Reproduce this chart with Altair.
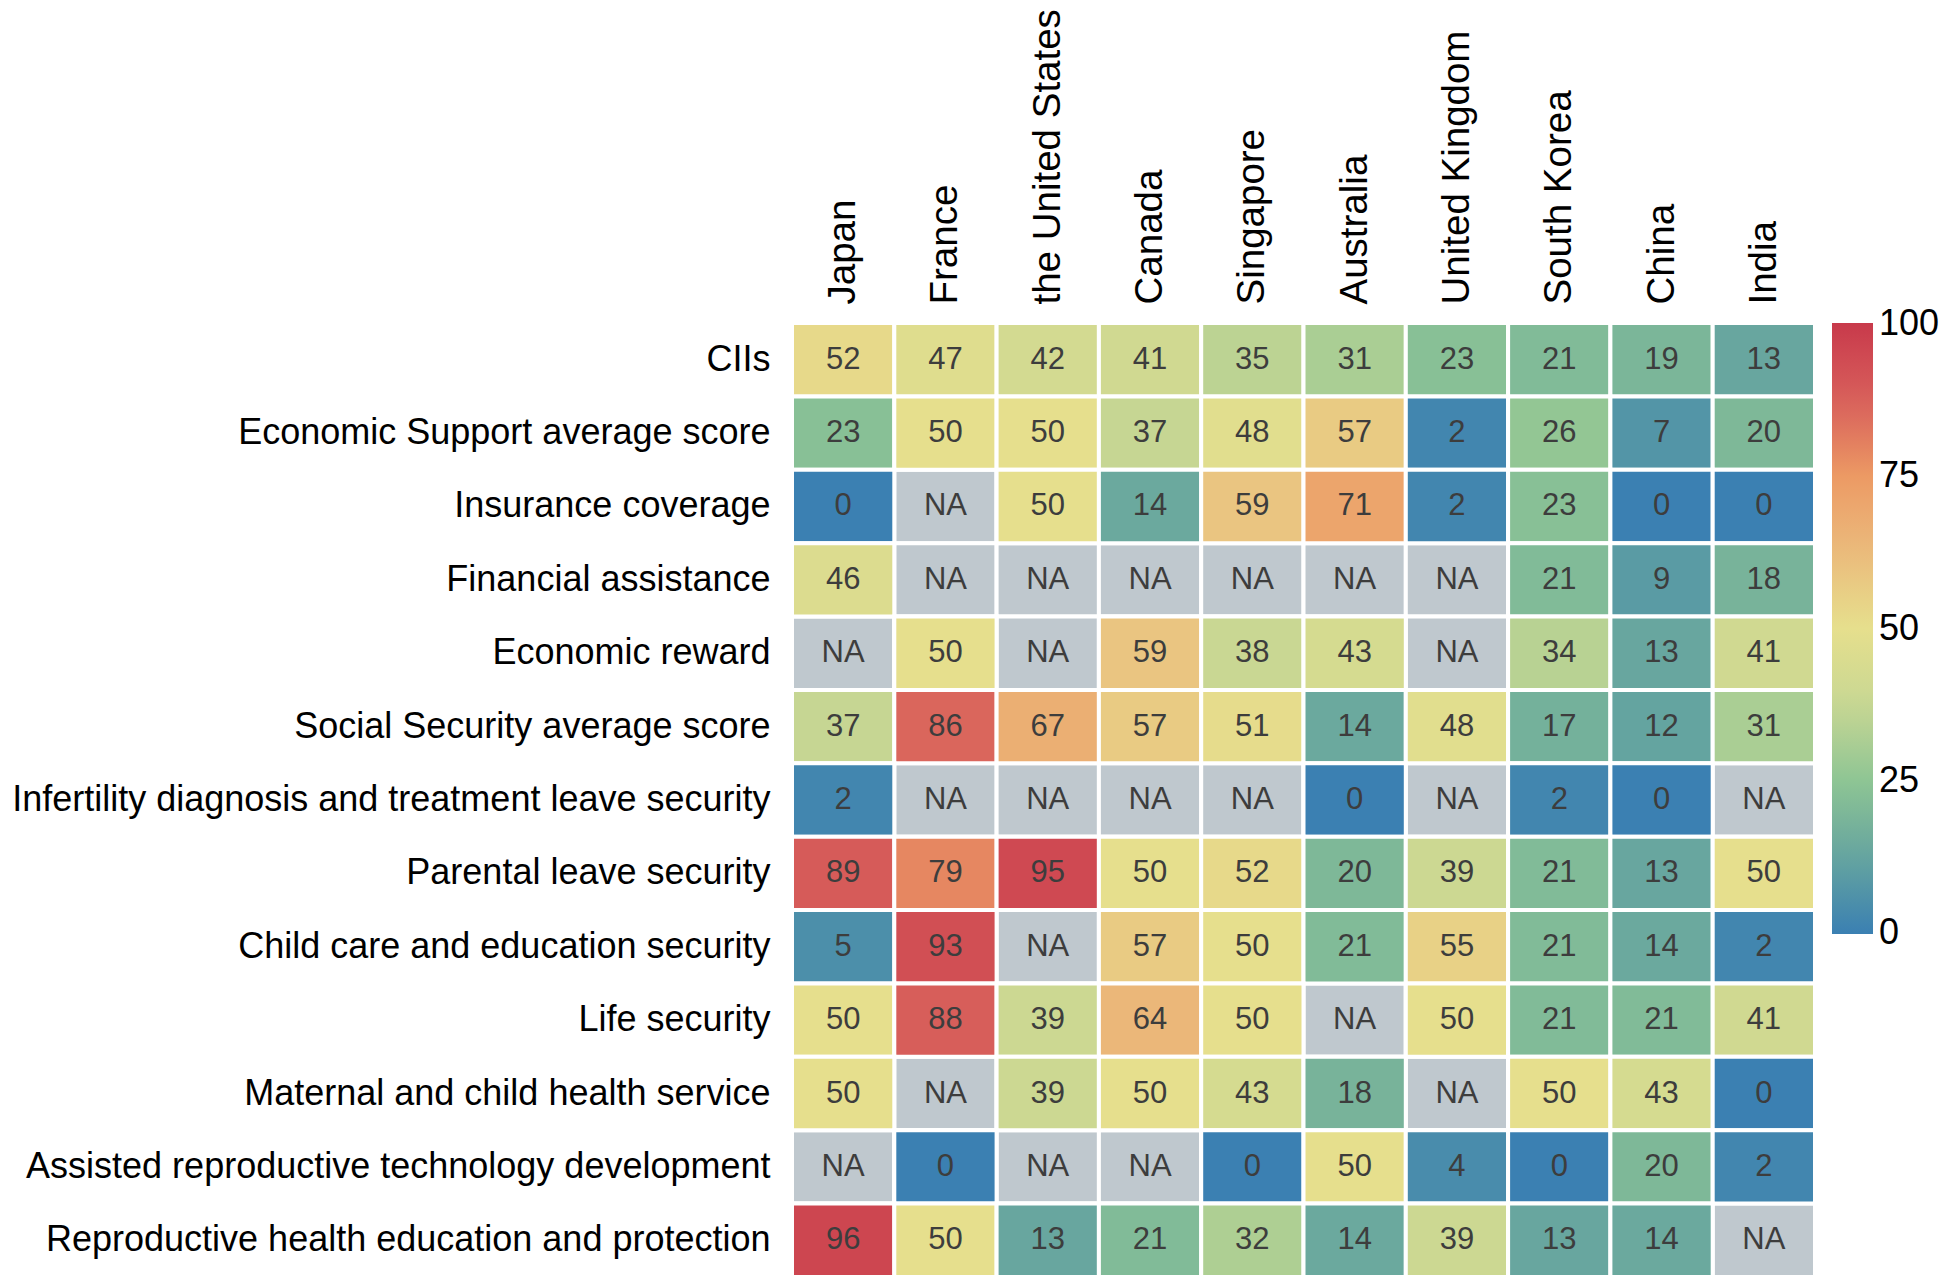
import altair as alt
import pandas as pd

rows = [
    "CIIs",
    "Economic Support average score",
    "Insurance coverage",
    "Financial assistance",
    "Economic reward",
    "Social Security average score",
    "Infertility diagnosis and treatment leave security",
    "Parental leave security",
    "Child care and education security",
    "Life security",
    "Maternal and child health service",
    "Assisted reproductive technology development",
    "Reproductive health education and protection",
]
countries = ["Japan", "France", "the United States", "Canada", "Singapore",
             "Australia", "United Kingdom", "South Korea", "China", "India"]

NA = None
v_ciis = [52, 47, 42, 41, 35, 31, 23, 21, 19, 13]
v_econ_avg = [23, 50, 50, 37, 48, 57, 2, 26, 7, 20]
v_insurance = [0, NA, 50, 14, 59, 71, 2, 23, 0, 0]
v_financial = [46, NA, NA, NA, NA, NA, NA, 21, 9, 18]
v_reward = [NA, 50, NA, 59, 38, 43, NA, 34, 13, 41]
v_social_avg = [37, 86, 67, 57, 51, 14, 48, 17, 12, 31]
v_infertility = [2, NA, NA, NA, NA, 0, NA, 2, 0, NA]
v_parental = [89, 79, 95, 50, 52, 20, 39, 21, 13, 50]
v_childcare = [5, 93, NA, 57, 50, 21, 55, 21, 14, 2]
v_life = [50, 88, 39, 64, 50, NA, 50, 21, 21, 41]
v_maternal = [50, NA, 39, 50, 43, 18, NA, 50, 43, 0]
v_art = [NA, 0, NA, NA, 0, 50, 4, 0, 20, 2]
v_repro = [96, 50, 13, 21, 32, 14, 39, 13, 14, NA]

series = [v_ciis, v_econ_avg, v_insurance, v_financial, v_reward, v_social_avg,
          v_infertility, v_parental, v_childcare, v_life, v_maternal, v_art, v_repro]

legend_ticks = [0, 25, 50, 75, 100]

records = []
for r, vals in zip(rows, series):
    for c, v in zip(countries, vals):
        records.append({
            "indicator": r,
            "country": c,
            "value": v,
            "label": "NA" if v is None else str(v),
        })
df = pd.DataFrame(records)

FONT = "Liberation Sans"

x_enc = alt.X("country:N", sort=countries, title=None,
              axis=alt.Axis(orient="top", labelAngle=270, labelFontSize=38.5,
                            labelPadding=19, labelColor="black", labelFont=FONT,
                            ticks=False, domain=False, labelLimit=2000))
y_enc = alt.Y("indicator:N", sort=rows, title=None,
              axis=alt.Axis(labelFontSize=36, labelPadding=22, labelColor="black",
                            labelFont=FONT, ticks=False, domain=False, labelLimit=2000))

base = alt.Chart(df)

na_rect = base.mark_rect(color="#bfc8ce", stroke="white", strokeWidth=4).encode(
    x=x_enc, y=y_enc
)

# domain ends nudged a hair beyond 0/100 so the end labels stay centred on their values
color_scale = alt.Scale(
    domain=[-0.2, 12.5, 25, 37.5, 50, 62.5, 75, 87.5, 100.2],
    range=["#3a7fb2", "#66a59f", "#8ec594", "#c8d793", "#e6df8d",
           "#ebbb7c", "#ec9a64", "#d85f5b", "#c8394b"],
    interpolate="rgb",
)

val_rect = base.transform_filter("datum.value != null").mark_rect(
    stroke="white", strokeWidth=4
).encode(
    x=x_enc, y=y_enc,
    color=alt.Color("value:Q", scale=color_scale, title=None,
                    legend=alt.Legend(values=legend_ticks,
                                      gradientLength=611, gradientThickness=41,
                                      offset=17, labelFontSize=36, labelFont=FONT,
                                      labelColor="black", labelOffset=6,
                                      labelBaseline="middle",
                                      gradientStrokeWidth=0, direction="vertical")),
)

text = base.mark_text(fontSize=31, font=FONT, color="#3d3d3d").encode(
    x=x_enc, y=y_enc, text="label:N"
)

chart = alt.layer(na_rect, val_rect, text).properties(
    width=1023, height=954,
    autosize=alt.AutoSizeParams(type="none"),
    padding={"left": 784, "top": 315, "right": 124, "bottom": 0},
).configure_view(stroke=None).configure_scale(bandPaddingInner=0, bandPaddingOuter=0)

chart.save("out.html", embed_options={"renderer": "svg", "actions": False})
